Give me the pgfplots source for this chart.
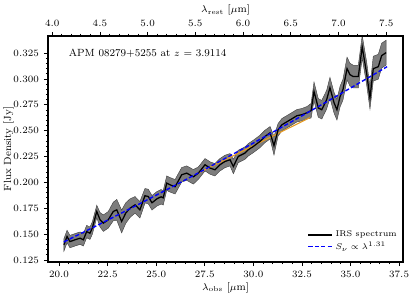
\documentclass[border=0pt]{standalone}
\usepackage{pgfplots}
\usepackage{pgfplotstable}
\pgfplotsset{compat=1.18}
\usepgfplotslibrary{fillbetween}
\definecolor{bandgray}{RGB}{125,125,125}
\definecolor{orng}{RGB}{230,155,35}
\pgfplotstableread{
l f e
20.25 0.1395 0.006
20.41 0.1476 0.006
20.56 0.1427 0.006
20.82 0.1444 0.006
21.08 0.1460 0.006
21.25 0.1444 0.006
21.42 0.1524 0.006
21.59 0.1508 0.006
21.71 0.1557 0.006
21.94 0.1718 0.006
22.11 0.1637 0.007
22.28 0.1605 0.008
22.53 0.1637 0.008
22.79 0.1718 0.009
22.97 0.1734 0.010
23.22 0.1621 0.011
23.43 0.1702 0.010
23.65 0.1750 0.009
23.91 0.1782 0.008
24.16 0.1734 0.008
24.42 0.1870 0.007
24.59 0.1863 0.007
24.78 0.1802 0.007
25.04 0.1841 0.007
25.25 0.1860 0.007
25.36 0.1850 0.007
25.54 0.1992 0.007
25.71 0.1976 0.007
25.97 0.1957 0.007
26.31 0.2073 0.007
26.57 0.2089 0.007
26.91 0.2053 0.007
27.17 0.2089 0.006
27.51 0.2170 0.006
27.77 0.2138 0.006
28.02 0.2121 0.006
28.28 0.2170 0.006
28.54 0.2202 0.006
28.80 0.2218 0.006
28.97 0.2153 0.007
29.22 0.2250 0.006
29.57 0.2283 0.006
29.74 0.2315 0.006
30.00 0.2347 0.006
30.34 0.2395 0.006
30.60 0.2444 0.006
30.86 0.2479 0.006
31.06 0.2354 0.009
31.27 0.2508 0.006
31.47 0.2557 0.006
31.73 0.2586 0.006
31.99 0.2615 0.006
32.24 0.2644 0.006
32.50 0.2654 0.006
32.76 0.2673 0.006
32.97 0.2692 0.007
33.12 0.2879 0.009
33.34 0.2719 0.009
33.52 0.2702 0.009
33.77 0.2799 0.009
33.94 0.2915 0.010
34.15 0.2770 0.010
34.30 0.2702 0.010
34.46 0.2828 0.010
34.61 0.2896 0.010
34.82 0.3100 0.011
34.97 0.3041 0.011
35.14 0.3022 0.011
35.40 0.3022 0.011
35.60 0.3310 0.011
35.83 0.3051 0.011
36.00 0.2818 0.011
36.17 0.3099 0.012
36.43 0.3118 0.012
36.60 0.3225 0.012
36.83 0.3254 0.012
}\spec
\begin{document}
\begin{tikzpicture}
\begin{axis}[
  scale only axis, width=255.6pt, height=162.7pt,
  at={(0,0)}, anchor=south west,
  xmin=19.43, xmax=37.70, ymin=0.123, ymax=0.3415,
  xtick={20,22.5,25,27.5,30,32.5,35,37.5},
  ytick={0.125,0.150,0.175,0.200,0.225,0.250,0.275,0.300,0.325},
  minor x tick num=4, minor y tick num=4,
  xtick pos=left, ytick pos=left, tick align=outside,
  major tick length=3pt, minor tick length=1.6pt,
  every tick/.style={black, line width=0.5pt},
  axis line style={line width=0.8pt},
  scaled y ticks=false, scaled x ticks=false,
  xticklabel style={/pgf/number format/.cd, fixed, fixed zerofill, precision=1},
  yticklabel style={/pgf/number format/.cd, fixed, fixed zerofill, precision=3},
  ticklabel style={font=\fontsize{7.5}{9}\selectfont},
  label style={font=\fontsize{7.5}{9}\selectfont},
  xlabel={$\lambda_{\rm obs}$ [$\mu$m]},
  ylabel={Flux Density [Jy]},
  xlabel style={yshift=3pt},
  ylabel style={yshift=-7pt},
  legend style={at={(rel axis cs:0.995,0.025)}, anchor=south east, draw=none, fill=none,
    font=\fontsize{6}{6.5}\selectfont, row sep=-2pt, inner sep=1pt},
  legend cell align=left,
  legend image post style={line width=0.9pt},
  clip=true,
]
\addplot[name path=up, draw=none, forget plot] table[x=l, y expr=\thisrow{f}+\thisrow{e}] {\spec};
\addplot[name path=lo, draw=none, forget plot] table[x=l, y expr=\thisrow{f}-\thisrow{e}] {\spec};
\addplot[fill=bandgray, draw=black!75, line width=0.3pt, forget plot] fill between[of=up and lo];
\addplot[orng, line width=0.8pt, forget plot] coordinates {(27.0,0.2073) (32.9,0.2625)};
\addplot[black, line width=0.9pt] table[x=l, y=f] {\spec};
\addlegendentry{IRS spectrum}
\addplot[blue, line width=1pt, dash pattern=on 3pt off 1.6pt] coordinates {
(20.25,0.1424) (22,0.1587) (24,0.1778) (26,0.1974) (28,0.2175) (30,0.2380)
(32,0.2590) (34,0.2803) (36,0.3021) (36.88,0.3118)};
\addlegendentry{$S_\nu \propto \lambda^{1.31}$}
\node[anchor=west, font=\fontsize{7.5}{9}\selectfont] at (rel axis cs:0.045,0.925) {APM 08279+5255 at $z$ = 3.9114};
\end{axis}
\begin{axis}[
  scale only axis, width=255.6pt, height=162.7pt,
  at={(0,0)}, anchor=south west,
  xmin=3.9561, xmax=7.6760, ymin=0, ymax=1,
  xtick={4.0,4.5,5.0,5.5,6.0,6.5,7.0,7.5},
  ytick=\empty,
  minor x tick num=4,
  xtick pos=right, tick align=outside,
  axis y line=none,
  major tick length=3pt, minor tick length=1.6pt,
  every tick/.style={black, line width=0.5pt},
  axis line style={line width=0.8pt},
  xticklabel style={/pgf/number format/.cd, fixed, fixed zerofill, precision=1},
  ticklabel style={font=\fontsize{7.5}{9}\selectfont},
  label style={font=\fontsize{7.5}{9}\selectfont},
  xlabel={$\lambda_{\rm rest}$ [$\mu$m]},
  xlabel style={yshift=-3pt},
]
\addplot[draw=none] coordinates {(5,0.5)};
\end{axis}
\pgfresetboundingbox
\path[use as bounding box] (-34.56pt,-25.2pt) rectangle (264.24pt,188.6pt);
\end{tikzpicture}
\end{document}
